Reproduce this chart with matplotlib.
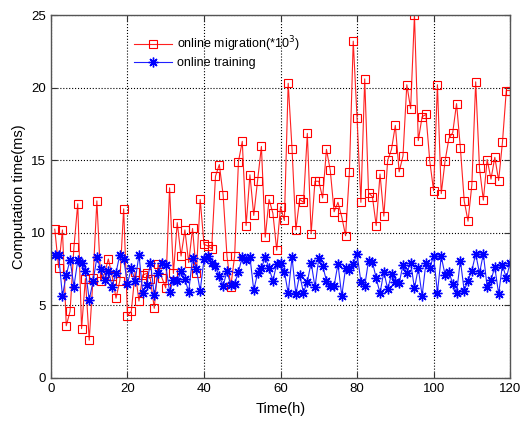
import numpy as np
import matplotlib
matplotlib.use('Agg')
import matplotlib.pyplot as plt

plt.rcParams['font.family'] = ['Liberation Sans', 'DejaVu Sans']

# hours 1..120
hours = np.arange(1, 121)

# online migration (*10^3)
migration = [
    10.25, 7.6, 10.2, 3.6, 4.6, 9.0, 12.0, 3.4, 6.85, 2.6,
    6.9, 12.2, 6.7, 7.2, 8.2, 7.0, 5.5, 6.7, 11.65, 4.3,
    4.6, 7.3, 5.3, 7.1, 7.2, 6.8, 4.8, 7.85, 6.9, 6.2,
    13.1, 7.2, 10.7, 8.4, 10.2, 7.95, 10.3, 7.2, 12.3, 9.2,
    9.1, 8.9, 13.9, 14.7, 12.6, 8.4, 6.3, 8.4, 14.9, 16.3,
    10.5, 14.0, 11.2, 13.6, 15.95, 9.7, 12.3, 11.35, 8.8, 11.8,
    10.85, 20.3, 15.8, 10.2, 12.3, 12.1, 16.85, 9.95, 13.55, 13.55,
    12.4, 15.75, 14.3, 11.45, 12.1, 11.1, 9.8, 14.2, 23.2, 17.9,
    12.1, 20.6, 12.75, 12.5, 10.5, 14.05, 11.15, 15.0, 15.75, 17.4,
    14.2, 15.3, 20.2, 18.55, 25.0, 16.35, 18.0, 18.15, 14.95, 12.9,
    20.2, 12.7, 14.95, 16.5, 16.9, 18.9, 15.85, 12.2, 10.8, 13.3,
    20.4, 14.45, 12.25, 15.05, 13.7, 15.2, 13.6, 16.25, 19.8, 19.8,
]

# online training
training = [
    8.5, 8.5, 5.65, 7.1, 8.15, 6.3, 8.1, 7.95, 7.4, 5.4,
    6.65, 8.3, 7.5, 6.75, 7.4, 6.3, 7.25, 8.5, 8.2, 6.5,
    7.55, 6.65, 8.5, 5.85, 6.4, 7.95, 5.7, 7.2, 7.9, 7.8,
    5.95, 6.75, 6.65, 7.35, 6.8, 5.95, 8.25, 7.5, 6.0, 8.2,
    8.4, 7.95, 7.7, 7.0, 6.35, 7.35, 6.4, 6.5, 7.3, 8.35,
    8.15, 8.35, 6.05, 7.2, 7.55, 8.35, 7.55, 6.7, 7.85, 7.95,
    7.33, 5.84, 8.32, 5.79, 7.1, 5.88, 6.64, 7.95, 6.26, 8.25,
    7.72, 6.71, 6.34, 6.34, 7.86, 5.66, 7.56, 7.45, 7.86, 8.55,
    6.64, 6.34, 8.09, 8.02, 6.87, 5.84, 7.33, 6.12, 7.15, 6.64,
    6.53, 7.79, 7.22, 7.95, 6.18, 7.56, 5.66, 7.95, 7.56, 8.41,
    5.88, 8.37, 7.1, 7.33, 6.48, 5.88, 8.09, 6.02, 6.71, 7.4,
    8.55, 7.22, 8.55, 6.26, 6.76, 7.63, 5.79, 7.79, 6.87, 7.95,
]

fig = plt.figure(figsize=(5.2, 4.24), dpi=100)
ax = fig.add_axes([0.098, 0.1085, 0.883, 0.856])

ax.plot(hours, migration, color='#ff2020', lw=0.8, marker='s', ms=5.5,
        mfc='none', mec='red', mew=0.8, label='online migration(*10$^3$)')
# MATLAB style asterisk: 8 arms
ax.plot(hours, training, color='#2020ff', lw=0.8, marker=(8, 2, 0), ms=7,
        mfc='blue', mec='blue', mew=1.0, label='online training')

ax.set_xlim(0, 120)
ax.set_ylim(0, 25)
ax.set_xticks(range(0, 121, 20))
ax.set_yticks(range(0, 26, 5))
ax.tick_params(direction='in', top=True, right=True, labelsize=9.5, length=4,
               color='#333333')
ax.grid(True, linestyle=':', color='black', linewidth=0.8)
for s in ax.spines.values():
    s.set_color('#555555')
    s.set_linewidth(1.0)

ax.set_xlabel('Time(h)', fontsize=10.5, labelpad=5)
ax.set_ylabel('Computation time(ms)', fontsize=10.5, labelpad=4)

ax.legend(loc='upper left', bbox_to_anchor=(0.17, 0.96), frameon=False,
          fontsize=9, handlelength=3.0, handletextpad=0.4,
          borderaxespad=0, labelspacing=0.25)

plt.savefig('out.png', dpi=100)
